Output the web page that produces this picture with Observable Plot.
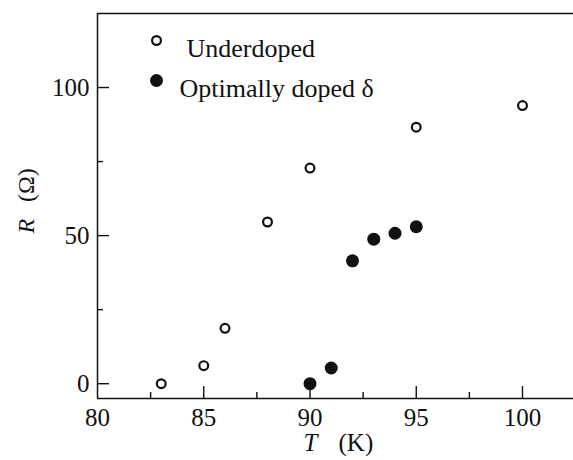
<!DOCTYPE html>
<html>
<head>
<meta charset="utf-8">
<script src="https://cdn.jsdelivr.net/npm/d3@7"></script>
<script src="https://cdn.jsdelivr.net/npm/@observablehq/plot@0.6"></script>
<style>
  html, body { margin: 0; padding: 0; background: white; font-family: "Liberation Serif", serif; }
</style>
</head>
<body>
<div id="chart"></div>
<script>
const tempUnder = [83, 85, 86, 88, 90, 95, 100];
const resUnder = [0, 6.1, 18.7, 54.6, 72.8, 86.6, 93.9];
const tempOpt = [90, 91, 92, 93, 94, 95];
const resOpt = [0, 5.3, 41.5, 48.8, 50.8, 53.0];
const xMajor = [80, 85, 90, 95, 100];
const xMinor = [82.5, 87.5, 92.5, 97.5];
const yMajor = [0, 50, 100];
const yMinor = [25, 75];
const xDomain = [80, 102.4];
const yDomain = [-5, 125];
const legendLabels = ["Underdoped", "Optimally doped δ"];

const under = tempUnder.map((t, i) => ({T: t, R: resUnder[i]}));
const opt = tempOpt.map((t, i) => ({T: t, R: resOpt[i]}));

const ink = "#111";
const serif = "Liberation Serif";
const W = 573, H = 460, mL = 97, mR = 0, mT = 13, mB = 62;
const frameW = W - mL - mR, frameH = H - mT - mB;
const majorLen = 12, minorLen = 6;

const svg = Plot.plot({
  width: W,
  height: H,
  marginLeft: mL,
  marginRight: mR,
  marginTop: mT,
  marginBottom: mB,
  x: {domain: xDomain, axis: null},
  y: {domain: yDomain, axis: null},
  style: {fontFamily: serif, background: "white", color: ink},
  marks: [
    Plot.ruleX([xDomain[0]], {stroke: ink, strokeWidth: 1.5}),
    Plot.ruleY(yDomain, {stroke: ink, strokeWidth: 1.5}),
    Plot.tickX(xMajor.slice(1), {x: d => d, insetTop: frameH - majorLen, stroke: ink, strokeWidth: 1.4}),
    Plot.tickX(xMinor, {x: d => d, insetTop: frameH - minorLen, stroke: ink, strokeWidth: 1.4}),
    Plot.tickY(yMajor, {y: d => d, insetRight: frameW - majorLen, stroke: ink, strokeWidth: 1.4}),
    Plot.tickY(yMinor, {y: d => d, insetRight: frameW - minorLen, stroke: ink, strokeWidth: 1.4}),
    Plot.text(xMajor, {x: d => d, frameAnchor: "bottom", text: d => String(d), lineAnchor: "top", dy: 10, fontSize: 25, fontFamily: serif, fill: ink}),
    Plot.text(yMajor, {y: d => d, frameAnchor: "left", text: d => String(d), textAnchor: "end", dx: -8, fontSize: 25, fontFamily: serif, fill: ink}),
    Plot.text(["T"], {frameAnchor: "bottom", text: d => d, textAnchor: "start", lineAnchor: "bottom", dx: -32, dy: 52, fontSize: 25, fontStyle: "italic", fontFamily: serif, fill: ink}),
    Plot.text(["(K)"], {frameAnchor: "bottom", text: d => d, textAnchor: "start", lineAnchor: "bottom", dx: 3, dy: 52, fontSize: 25, fontFamily: serif, fill: ink}),
    Plot.text(["R"], {frameAnchor: "left", text: d => d, textAnchor: "start", lineAnchor: "bottom", rotate: -90, dx: -64, dy: 27.5, fontSize: 24, fontStyle: "italic", fontFamily: serif, fill: ink}),
    Plot.text(["(Ω)"], {frameAnchor: "left", text: d => d, textAnchor: "start", lineAnchor: "bottom", rotate: -90, dx: -64, dy: -4, fontSize: 24, fontFamily: serif, fill: ink}),
    Plot.dot(under, {x: "T", y: "R", r: 4.4, stroke: ink, strokeWidth: 2.2, fill: "white"}),
    Plot.dot(opt, {x: "T", y: "R", r: 6.5, fill: ink, stroke: "none"}),
    Plot.dot([legendLabels[0]], {frameAnchor: "top-left", dx: 59, dy: 27, r: 4.4, stroke: ink, strokeWidth: 2.2, fill: "white"}),
    Plot.dot([legendLabels[1]], {frameAnchor: "top-left", dx: 59, dy: 67, r: 6.5, fill: ink, stroke: "none"}),
    Plot.text([legendLabels[0]], {frameAnchor: "top-left", text: d => d, textAnchor: "start", dx: 89, dy: 25.4, fontSize: 26, fontFamily: serif, fill: ink}),
    Plot.text([legendLabels[1]], {frameAnchor: "top-left", text: d => d, textAnchor: "start", dx: 82, dy: 64.7, fontSize: 26, fontFamily: serif, fill: ink})
  ]
});
document.getElementById("chart").appendChild(svg);
</script>
</body>
</html>
